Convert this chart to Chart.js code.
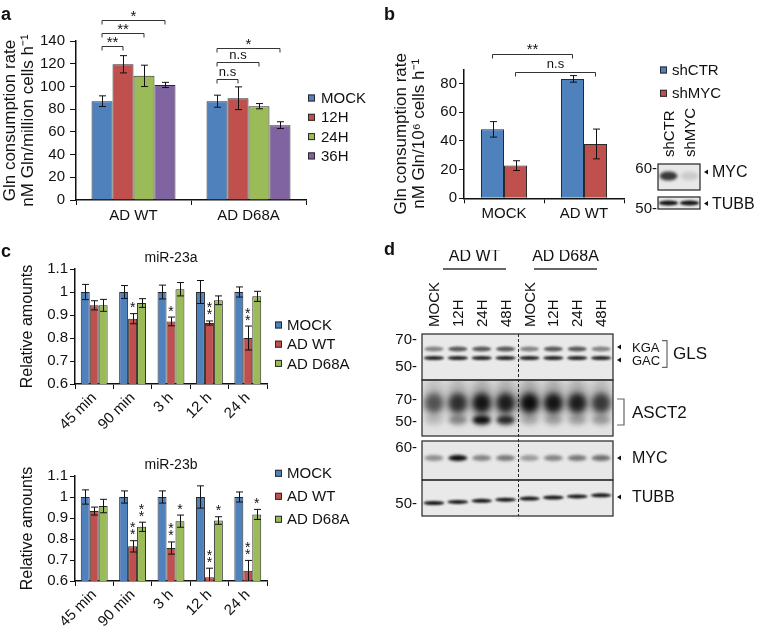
<!DOCTYPE html>
<html>
<head>
<meta charset="utf-8">
<script src="https://cdn.jsdelivr.net/npm/chart.js@4.4.1/dist/chart.umd.min.js"></script>
<style>
  body { margin: 0; background: #fff; }
  #fig { position: relative; width: 761px; height: 629px; overflow: hidden; background: #fff;
         font-family: 'Liberation Sans', Arial, sans-serif; color: #111; }
  #fig canvas { position: absolute; }
  .tag { position: absolute; font-weight: bold; font-size: 18px; line-height: 18px; }
</style>
</head>
<body>
<div id="fig">
  <canvas id="chartA" width="380" height="235" style="left:0;top:0"></canvas>
  <canvas id="chartB" width="381" height="235" style="left:380px;top:0"></canvas>
  <canvas id="blotB" width="131" height="120" style="left:630px;top:100px"></canvas>
  <canvas id="chartC1" width="380" height="195" style="left:0;top:250px"></canvas>
  <canvas id="chartC2" width="380" height="184" style="left:0;top:445px"></canvas>
  <canvas id="blotD" width="381" height="379" style="left:380px;top:250px"></canvas>
  <div class="tag" style="left:1px;top:5px">a</div>
  <div class="tag" style="left:384px;top:5px">b</div>
  <div class="tag" style="left:1px;top:242px">c</div>
  <div class="tag" style="left:384px;top:240px">d</div>
</div>
<script>
const FONT = "'Liberation Sans', Arial, sans-serif";
Chart.defaults.font.family = FONT;
Chart.defaults.color = '#111';

// panel a: Gln consumption, AD WT vs AD D68A
const groupsA = ['AD WT', 'AD D68A'];
const mockA = [87, 87];
const h12A = [119.5, 89.6];
const h24A = [109.3, 82.6];
const h36A = [101.3, 65.9];
const mockErrA = [4.7, 5.3];
const h12ErrA = [7.6, 10];
const h24ErrA = [9.4, 2.3];
const h36ErrA = [2.3, 3];

// panel b: shCTR / shMYC
const groupsB = ['MOCK', 'AD WT'];
const shCtrB = [48.1, 83.3];
const shMycB = [22.8, 37.9];
const shCtrErrB = [5.4, 2.3];
const shMycErrB = [3.4, 10.4];
const lanesB = ['shCTR', 'shMYC'];
const mycBandB = [0.8, 0.12];
const tubbBandB = [0.95, 0.95];

// panel c: miR-23a / miR-23b
const timesC = ['45 min', '90 min', '3 h', '12 h', '24 h'];
const mock23a = [1, 1, 1, 1, 1];
const mockErr23a = [0.033, 0.028, 0.03, 0.05, 0.022];
const wt23a = [0.942, 0.884, 0.872, 0.865, 0.80];
const wtErr23a = [0.02, 0.022, 0.019, 0.009, 0.052];
const d68a23a = [0.942, 0.952, 1.012, 0.964, 0.981];
const d68aErr23a = [0.026, 0.019, 0.029, 0.019, 0.022];
const wtStars23a = ['', '*', '*', '**', '**'];
const d68aStars23a = ['', '', '', '', ''];
const mock23b = [1, 1, 1, 1, 1];
const mockErr23b = [0.034, 0.029, 0.029, 0.053, 0.024];
const wt23b = [0.933, 0.765, 0.757, 0.618, 0.649];
const wtErr23b = [0.019, 0.027, 0.029, 0.043, 0.049];
const d68a23b = [0.957, 0.858, 0.885, 0.888, 0.917];
const d68aErr23b = [0.032, 0.022, 0.029, 0.018, 0.024];
const wtStars23b = ['', '**', '**', '**', '**'];
const d68aStars23b = ['', '**', '*', '*', '*'];

// panel d: western blot band intensities (0..1)
const lanesD = ['MOCK', '12H', '24H', '48H', 'MOCK', '12H', '24H', '48H'];
const kgaD = [0.45, 0.65, 0.65, 0.65, 0.45, 0.65, 0.65, 0.45];
const gacD = [0.9, 0.9, 0.9, 0.9, 0.9, 0.9, 0.9, 0.9];
const asct2D = [0.6, 0.8, 0.95, 0.9, 1.0, 0.95, 0.9, 0.75];
const asct2LowD = [0.1, 0.35, 1.0, 0.85, 0.15, 0.2, 0.2, 0.25];
const mycD = [0.4, 1.0, 0.45, 0.5, 0.35, 0.45, 0.5, 0.55];
const tubbD = [0.95, 0.95, 0.95, 0.95, 0.95, 0.95, 0.95, 0.95];

const BLUE = '#4f81bd', RED = '#c0504d', GREEN = '#9bbb59', PURPLE = '#8064a2';
const EDGE = '#2a2a2a';

function inkText(ctx, t, x, y) {
  ctx.textAlign = 'center';
  ctx.textBaseline = 'alphabetic';
  const m = ctx.measureText(t);
  ctx.fillText(t, x, y + (m.actualBoundingBoxAscent - m.actualBoundingBoxDescent) / 2);
}

const errorBars = {
  id: 'errorBars',
  afterDatasetsDraw(chart) {
    const { ctx, chartArea: ca } = chart;
    const ys = chart.scales.y;
    ctx.save();
    ctx.beginPath();
    ctx.rect(ca.left, ca.top, ca.width, ca.height);
    ctx.clip();
    ctx.strokeStyle = '#111';
    ctx.lineWidth = 1;
    chart.data.datasets.forEach((ds, i) => {
      if (!ds.errors) return;
      chart.getDatasetMeta(i).data.forEach((bar, j) => {
        const x = Math.round(bar.x) + 0.5;
        const y1 = ys.getPixelForValue(ds.data[j] + ds.errors[j]);
        const y2 = ys.getPixelForValue(ds.data[j] - ds.errors[j]);
        ctx.beginPath();
        ctx.moveTo(x, y1); ctx.lineTo(x, y2);
        ctx.moveTo(x - 3.5, y1); ctx.lineTo(x + 3.5, y1);
        ctx.moveTo(x - 3.5, y2); ctx.lineTo(x + 3.5, y2);
        ctx.stroke();
      });
    });
    ctx.restore();
  }
};

const boxLegend = {
  id: 'boxLegend',
  afterDraw(chart, args, o) {
    const { ctx } = chart;
    ctx.save();
    ctx.font = `15px ${FONT}`;
    ctx.textAlign = 'left';
    ctx.textBaseline = 'middle';
    chart.data.datasets.forEach((ds, i) => {
      const cy = o.y + i * o.step;
      ctx.fillStyle = ds.backgroundColor;
      ctx.fillRect(o.x, cy - o.box / 2, o.box, o.box);
      ctx.strokeStyle = EDGE;
      ctx.lineWidth = 1;
      ctx.strokeRect(o.x + 0.5, cy - o.box / 2 + 0.5, o.box - 1, o.box - 1);
      ctx.fillStyle = '#111';
      ctx.fillText(ds.label, o.x + o.box + o.pad, cy + 1);
    });
    ctx.restore();
  }
};

const brackets = {
  id: 'brackets',
  afterDatasetsDraw(chart, args, o) {
    if (!o.items) return;
    const { ctx } = chart;
    const ys = chart.scales.y;
    ctx.save();
    ctx.strokeStyle = '#333';
    ctx.fillStyle = '#111';
    ctx.lineWidth = 1;
    o.items.forEach(b => {
      const x1 = chart.getDatasetMeta(b.from[0]).data[b.from[1]].x;
      const x2 = chart.getDatasetMeta(b.to[0]).data[b.to[1]].x;
      const y = Math.round(ys.getPixelForValue(b.at)) + 0.5;
      ctx.beginPath();
      ctx.moveTo(x1, y + o.leg); ctx.lineTo(x1, y); ctx.lineTo(x2, y); ctx.lineTo(x2, y + o.leg);
      ctx.stroke();
      ctx.font = b.text === 'n.s' ? `13px ${FONT}` : `15px ${FONT}`;
      inkText(ctx, b.text, (x1 + x2) / 2, y - o.gap);
    });
    ctx.restore();
  }
};

const stars = {
  id: 'stars',
  afterDatasetsDraw(chart, args, o) {
    const { ctx } = chart;
    const ys = chart.scales.y;
    ctx.save();
    ctx.fillStyle = '#111';
    ctx.font = `14px ${FONT}`;
    chart.data.datasets.forEach((ds, i) => {
      if (!ds.stars) return;
      const meta = chart.getDatasetMeta(i);
      ds.stars.forEach((s, j) => {
        const top = ys.getPixelForValue(ds.data[j] + ds.errors[j]);
        for (let k = 0; k < s.length; k++) {
          inkText(ctx, '*', meta.data[j].x, top - o.gap - k * o.step);
        }
      });
    });
    ctx.restore();
  }
};

const panelTitle = {
  id: 'panelTitle',
  afterDraw(chart, args, o) {
    if (!o.text) return;
    const { ctx, chartArea: ca } = chart;
    ctx.save();
    ctx.fillStyle = '#111';
    ctx.font = `${o.size}px ${FONT}`;
    inkText(ctx, o.text, (ca.left + ca.right) / 2, ca.top - o.offset);
    ctx.restore();
  }
};

function barChart(id, cfg) {
  const canvas = document.getElementById(id);
  const a = cfg.area;
  return new Chart(canvas, {
    type: 'bar',
    data: {
      labels: cfg.labels,
      datasets: cfg.datasets.map(d => Object.assign({
        borderColor: EDGE, borderWidth: 1, barPercentage: 1, categoryPercentage: cfg.cat
      }, d))
    },
    options: {
      responsive: false,
      animation: false,
      devicePixelRatio: 1,
      layout: { padding: { left: 0, top: a.top, right: canvas.width - a.right, bottom: 0 } },
      plugins: {
        legend: { display: false },
        tooltip: { enabled: false },
        boxLegend: cfg.legend,
        brackets: cfg.brackets || {},
        stars: { gap: 8.5, step: 7 },
        panelTitle: cfg.title || {}
      },
      scales: {
        x: {
          ticks: {
            font: { size: 15 }, padding: cfg.xPad, autoSkip: false,
            minRotation: cfg.rot, maxRotation: cfg.rot, color: '#111'
          },
          grid: { offset: true, drawOnChartArea: false, tickLength: 5, color: '#111' },
          border: { color: '#111', width: 1.5 },
          afterFit: s => { s.height = canvas.height - a.bottom; }
        },
        y: {
          min: cfg.y.min, max: cfg.y.max,
          ticks: {
            stepSize: cfg.y.step, font: { size: 15 }, padding: cfg.y.pad, color: '#111',
            callback: v => String(+v.toFixed(2))
          },
          grid: { drawOnChartArea: false, tickLength: cfg.y.tick, color: '#111' },
          border: { color: '#111', width: 1.5 },
          title: {
            display: true, text: cfg.y.title, color: '#111',
            font: { size: cfg.y.titleSize, lineHeight: cfg.y.titleLH },
            padding: { top: cfg.y.titlePad, bottom: 0 }
          },
          afterFit: s => { s.width = a.left; }
        }
      }
    },
    plugins: [errorBars, brackets, stars, boxLegend, panelTitle]
  });
}

barChart('chartA', {
  labels: groupsA,
  cat: 0.73,
  area: { left: 76, top: 41, right: 306, bottom: 200 },
  xPad: 2, rot: 0,
  datasets: [
    { label: 'MOCK', data: mockA, errors: mockErrA, backgroundColor: BLUE },
    { label: '12H', data: h12A, errors: h12ErrA, backgroundColor: RED },
    { label: '24H', data: h24A, errors: h24ErrA, backgroundColor: GREEN },
    { label: '36H', data: h36A, errors: h36ErrA, backgroundColor: PURPLE }
  ],
  y: {
    min: 0, max: 140, step: 20, tick: 6, pad: 5,
    title: ['Gln consumption rate', 'nM Gln/million cells h\u207B\u00B9'],
    titleSize: 17, titleLH: 1.06, titlePad: 1.3
  },
  legend: { x: 308, y: 98, step: 19.3, box: 7, pad: 6 },
  brackets: {
    leg: 4, gap: 7,
    items: [
      { from: [0, 0], to: [1, 0], at: 135.3, text: '**' },
      { from: [0, 0], to: [2, 0], at: 147.3, text: '**' },
      { from: [0, 0], to: [3, 0], at: 158.8, text: '*' },
      { from: [0, 1], to: [1, 1], at: 106.9, text: 'n.s' },
      { from: [0, 1], to: [2, 1], at: 121.3, text: 'n.s' },
      { from: [0, 1], to: [3, 1], at: 134.2, text: '*' }
    ]
  }
});

barChart('chartB', {
  labels: groupsB,
  cat: 0.575,
  area: { left: 84, top: 69.3, right: 244, bottom: 198.3 },
  xPad: 2, rot: 0,
  datasets: [
    { label: 'shCTR', data: shCtrB, errors: shCtrErrB, backgroundColor: BLUE },
    { label: 'shMYC', data: shMycB, errors: shMycErrB, backgroundColor: RED }
  ],
  y: {
    min: 0, max: 90, step: 10, tick: 5, pad: 2,
    title: ['Gln consumption rate', 'nM Gln/10\u2076 cells h\u207B\u00B9'],
    titleSize: 17, titleLH: 1.06, titlePad: 12
  },
  legend: { x: 280, y: 70, step: 23.3, box: 7, pad: 5 },
  brackets: {
    leg: 4, gap: 8,
    items: [
      { from: [0, 0], to: [0, 1], at: 100.7, text: '**' },
      { from: [1, 0], to: [1, 1], at: 88.3, text: 'n.s' }
    ]
  }
});

const yC = { min: 0.6, max: 1.1, step: 0.1, tick: 5, pad: 2, title: 'Relative amounts', titleSize: 16, titleLH: 1.2, titlePad: 18.4 };

barChart('chartC1', {
  labels: timesC,
  cat: 0.70,
  area: { left: 75, top: 19, right: 267, bottom: 134 },
  xPad: 0, rot: 45,
  datasets: [
    { label: 'MOCK', data: mock23a, errors: mockErr23a, backgroundColor: BLUE },
    { label: 'AD WT', data: wt23a, errors: wtErr23a, stars: wtStars23a, backgroundColor: RED },
    { label: 'AD D68A', data: d68a23a, errors: d68aErr23a, stars: d68aStars23a, backgroundColor: GREEN }
  ],
  y: yC,
  legend: { x: 275, y: 75, step: 19.2, box: 7, pad: 5 },
  title: { text: 'miR-23a', size: 14, offset: 12.7 }
});

barChart('chartC2', {
  labels: timesC,
  cat: 0.70,
  area: { left: 75, top: 31, right: 267, bottom: 136 },
  xPad: 0, rot: 45,
  datasets: [
    { label: 'MOCK', data: mock23b, errors: mockErr23b, backgroundColor: BLUE },
    { label: 'AD WT', data: wt23b, errors: wtErr23b, stars: wtStars23b, backgroundColor: RED },
    { label: 'AD D68A', data: d68a23b, errors: d68aErr23b, stars: d68aStars23b, backgroundColor: GREEN }
  ],
  y: yC,
  legend: { x: 275, y: 28.3, step: 23, box: 7, pad: 5 },
  title: { text: 'miR-23b', size: 14, offset: 13 }
});

// western blots: lanes on x (0..n), blot track on y (px-like units from top of the blot)
const blot = {
  id: 'blot',
  afterDraw(chart, args, o) {
    const { ctx, chartArea: ca } = chart;
    const xs = chart.scales.x, ys = chart.scales.y;
    const lane = i => xs.getPixelForValue(i + 0.5);
    const laneW = xs.getPixelForValue(1) - xs.getPixelForValue(0);
    const py = v => ys.getPixelForValue(v);
    ctx.save();
    o.panels.forEach(p => {
      ctx.fillStyle = p.bg;
      ctx.fillRect(ca.left, py(p.from), ca.width, py(p.to) - py(p.from));
    });
    o.rows.forEach(r => {
      const p = o.panels[r.panel];
      r.values.forEach((v, i) => {
        ctx.save();
        ctx.beginPath();
        ctx.rect(ca.left, py(p.from), ca.width, py(p.to) - py(p.from));
        ctx.clip();
        ctx.filter = `blur(${r.blur}px)`;
        ctx.fillStyle = `rgba(12,12,12,${(v * (r.alpha || 1)).toFixed(3)})`;
        ctx.beginPath();
        ctx.ellipse(lane(i), py(r.at + (r.tilt || 0) * i), laneW * r.w / 2, r.h / 2, 0, 0, Math.PI * 2);
        ctx.fill();
        ctx.restore();
      });
    });
    if (o.divider != null) {
      const x = Math.round(xs.getPixelForValue(o.divider)) + 0.5;
      ctx.setLineDash([3, 2]);
      ctx.strokeStyle = '#222';
      ctx.lineWidth = 1;
      ctx.beginPath(); ctx.moveTo(x, ca.top); ctx.lineTo(x, ca.bottom); ctx.stroke();
      ctx.setLineDash([]);
    }
    ctx.strokeStyle = '#333';
    ctx.lineWidth = 1.3;
    o.panels.forEach(p => ctx.strokeRect(ca.left, py(p.from), ca.width, py(p.to) - py(p.from)));

    ctx.fillStyle = '#111';
    ctx.font = `15px ${FONT}`;
    ctx.textAlign = 'right';
    ctx.textBaseline = 'middle';
    o.markers.forEach(m => ctx.fillText(m.text, ca.left - o.markerGap, py(m.at)));

    ctx.textAlign = 'left';
    o.lanes.forEach((t, i) => {
      ctx.save();
      ctx.translate(lane(i) + 1, ca.top - o.laneGap);
      ctx.rotate(-Math.PI / 2);
      ctx.fillText(t, 0, 0);
      ctx.restore();
    });

    (o.groups || []).forEach(g => {
      const x1 = xs.getPixelForValue(g.from), x2 = xs.getPixelForValue(g.to);
      ctx.font = `16px ${FONT}`;
      ctx.textAlign = 'center';
      ctx.fillText(g.text, (x1 + x2) / 2, ca.top - o.groupTextGap);
      ctx.strokeStyle = '#333';
      ctx.lineWidth = 1.3;
      ctx.beginPath();
      ctx.moveTo(x1, ca.top - o.groupLineGap); ctx.lineTo(x2, ca.top - o.groupLineGap);
      ctx.stroke();
    });

    o.labels.forEach(l => {
      const y = py(l.at);
      if (l.arrow) {
        const x = ca.right + o.arrowGap;
        ctx.beginPath();
        ctx.moveTo(x, y); ctx.lineTo(x + 4, y - 2.5); ctx.lineTo(x + 4, y + 2.5); ctx.closePath();
        ctx.fill();
      }
      ctx.font = `${l.size}px ${FONT}`;
      ctx.textAlign = 'left';
      ctx.fillText(l.text, ca.right + l.dx, y + 1);
    });

    ctx.strokeStyle = '#666';
    ctx.lineWidth = 1.2;
    (o.brackets || []).forEach(b => {
      const x = ca.right + b.dx;
      ctx.beginPath();
      ctx.moveTo(x - b.w, py(b.from)); ctx.lineTo(x, py(b.from));
      ctx.lineTo(x, py(b.to)); ctx.lineTo(x - b.w, py(b.to));
      ctx.stroke();
    });
    ctx.restore();
  }
};

function blotChart(id, nLanes, depth, pad, opts) {
  return new Chart(document.getElementById(id), {
    type: 'scatter',
    data: { datasets: [] },
    options: {
      responsive: false,
      animation: false,
      devicePixelRatio: 1,
      layout: { padding: pad },
      scales: {
        x: { type: 'linear', min: 0, max: nLanes, display: false },
        y: { type: 'linear', min: 0, max: depth, reverse: true, display: false }
      },
      plugins: { legend: { display: false }, tooltip: { enabled: false }, blot: opts }
    },
    plugins: [blot]
  });
}

blotChart('blotB', 2, 45, { left: 28, top: 64, right: 61, bottom: 11 }, {
  lanes: lanesB,
  laneGap: 7,
  markerGap: 1,
  arrowGap: 4,
  panels: [
    { from: 0, to: 26, bg: '#e8e8e8' },
    { from: 33, to: 45, bg: '#e6e6e6' }
  ],
  rows: [
    { values: mycBandB, panel: 0, at: 12, h: 9, w: 0.85, blur: 1.8 },
    { values: tubbBandB, panel: 1, at: 39, h: 5, w: 0.92, blur: 0.8 }
  ],
  markers: [{ text: '60-', at: 5 }, { text: '50-', at: 45 }],
  labels: [
    { text: 'MYC', at: 8, size: 16, dx: 12, arrow: true },
    { text: 'TUBB', at: 39.5, size: 16, dx: 12, arrow: true }
  ]
});

blotChart('blotD', 8, 182, { left: 42, top: 84, right: 148, bottom: 113 }, {
  lanes: lanesD,
  laneGap: 7,
  markerGap: 5,
  arrowGap: 4,
  divider: 4,
  groupTextGap: 77,
  groupLineGap: 65,
  groups: [
    { text: 'AD WT', from: 0.88, to: 3.52 },
    { text: 'AD D68A', from: 4.69, to: 7.33 }
  ],
  panels: [
    { from: 0, to: 46, bg: '#e9e9e9' },
    { from: 46, to: 102, bg: '#e3e3e3' },
    { from: 107, to: 146, bg: '#e7e7e7' },
    { from: 146, to: 182, bg: '#e9e9e9' }
  ],
  rows: [
    { values: kgaD, panel: 0, at: 15, h: 5, w: 0.8, blur: 1.2 },
    { values: gacD, panel: 0, at: 24, h: 4, w: 0.86, blur: 0.8 },
    { values: asct2D, panel: 1, at: 66, h: 46, w: 0.92, blur: 5, alpha: 0.3 },
    { values: asct2D, panel: 1, at: 69, h: 20, w: 0.8, blur: 3 },
    { values: asct2LowD, panel: 1, at: 86, h: 9, w: 0.78, blur: 2 },
    { values: mycD, panel: 2, at: 124, h: 6, w: 0.8, blur: 1.5 },
    { values: tubbD, panel: 3, at: 169, h: 4, w: 0.88, blur: 0.8, tilt: -1.1 }
  ],
  markers: [
    { text: '70-', at: 6 }, { text: '50-', at: 33 },
    { text: '70-', at: 66 }, { text: '50-', at: 88 },
    { text: '60-', at: 114 }, { text: '50-', at: 170 }
  ],
  labels: [
    { text: 'KGA', at: 13, size: 13, dx: 19, arrow: true },
    { text: 'GAC', at: 26, size: 13, dx: 19, arrow: true },
    { text: 'GLS', at: 19.5, size: 17, dx: 60 },
    { text: 'ASCT2', at: 78, size: 17, dx: 19 },
    { text: 'MYC', at: 124, size: 16, dx: 19, arrow: true },
    { text: 'TUBB', at: 163, size: 16, dx: 19, arrow: true }
  ],
  brackets: [
    { from: 6.7, to: 33.3, dx: 54, w: 5 },
    { from: 65, to: 91, dx: 11, w: 7 }
  ]
});
</script>
</body>
</html>
